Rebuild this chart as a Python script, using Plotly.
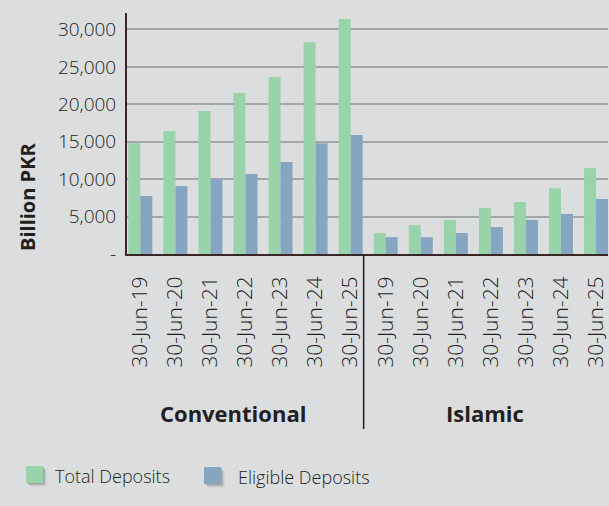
import plotly.graph_objects as go

# Deposits by bank type, billion PKR
groups = ["Conventional", "Islamic"]
dates = ["30-Jun-19", "30-Jun-20", "30-Jun-21", "30-Jun-22", "30-Jun-23", "30-Jun-24", "30-Jun-25"]

conv_total = [14800, 16450, 19100, 21500, 23650, 28300, 31400]
conv_eligible = [7750, 9100, 10000, 10700, 12300, 14800, 15900]
isl_total = [2800, 3850, 4550, 6150, 6950, 8800, 11500]
isl_eligible = [2250, 2250, 2800, 3600, 4550, 5350, 7350]

y_tick_vals = [0, 5000, 10000, 15000, 20000, 25000, 30000]
y_tick_text = ["-", "5,000", "10,000", "15,000", "20,000", "25,000", "30,000"]

series_names = ["Total Deposits", "Eligible Deposits"]
GREEN = "#98d3a9"
BLUE = "#86a5c0"
BG = "#dcdddf"
AXIS = "#3a2627"
TEXT = "#231f20"
FONT = "Open Sans"

x_pos = list(range(len(dates) * len(groups)))
tick_text = dates + dates
total = conv_total + isl_total
eligible = conv_eligible + isl_eligible

fig = go.Figure()
fig.add_trace(go.Bar(x=x_pos, y=total, name=series_names[0], marker=dict(color=GREEN, line=dict(width=0)),
                     showlegend=False))
fig.add_trace(go.Bar(x=x_pos, y=eligible, name=series_names[1], marker=dict(color=BLUE, line=dict(width=0)),
                     showlegend=False))

n = len(dates)
sep_x = n - 0.63

shapes = [
    # divider between the two bank groups
    dict(type="line", xref="x", yref="paper", x0=sep_x, x1=sep_x, y0=0, y1=-0.726,
         line=dict(color=TEXT, width=1.5)),
]

# legend swatches with a soft drop shadow
legend_items = [(series_names[0], GREEN, 26, 466, 53), (series_names[1], BLUE, 204, 467, 236)]
W, H = 609, 506
ml, mt, pw, ph = 127, 13, 481, 241


def px_to_paper(xp, yp):
    return (xp - ml) / pw, (mt + ph - yp) / ph


annotations = []
for label, col, sx, sy, tx in legend_items:
    for k, op in [(4, 0.06), (3, 0.08), (2, 0.12), (1, 0.16)]:
        x0, y0 = px_to_paper(sx + k, sy + k)
        x1, y1 = px_to_paper(sx + 17 + k, sy + 17 + k)
        shapes.append(dict(type="rect", xref="paper", yref="paper", x0=x0, x1=x1, y0=y0, y1=y1,
                           fillcolor="rgba(60,60,60,%s)" % op, line=dict(width=0), layer="above"))
    x0, y0 = px_to_paper(sx, sy)
    x1, y1 = px_to_paper(sx + 17, sy + 17)
    shapes.append(dict(type="rect", xref="paper", yref="paper", x0=x0, x1=x1, y0=y0, y1=y1,
                       fillcolor=col, line=dict(width=0), layer="above"))
    ax, ay = px_to_paper(tx, sy + 10)
    annotations.append(dict(text=label, xref="paper", yref="paper", x=ax, y=ay, xanchor="left",
                            yanchor="middle", showarrow=False,
                            font=dict(family=FONT, size=18, color=TEXT, weight=300)))

# group labels
for gx, name in [(2.65, groups[0]), (9.83, groups[1])]:
    annotations.append(dict(text="<b>%s</b>" % name, xref="x", yref="paper", x=gx, y=-0.66,
                            xanchor="center", yanchor="middle", showarrow=False,
                            font=dict(family=FONT, size=22, color=TEXT)))

# y-axis title
tx, ty = px_to_paper(27, 197)
annotations.append(dict(text="<b>Billion PKR</b>", xref="paper", yref="paper", x=tx, y=ty, textangle=-90,
                        xanchor="center", yanchor="middle", showarrow=False,
                        font=dict(family=FONT, size=20, color=TEXT)))

fig.update_layout(
    width=W, height=H,
    margin=dict(l=ml, r=W - ml - pw, t=mt, b=H - mt - ph, pad=0),
    paper_bgcolor=BG, plot_bgcolor=BG,
    barmode="group", bargap=0.316, bargroupgap=0,
    shapes=shapes, annotations=annotations,
    font=dict(family=FONT, color=TEXT),
)
fig.update_xaxes(
    range=[-0.38, 13.34], tickmode="array", tickvals=x_pos, ticktext=tick_text, tickangle=-90,
    showgrid=False, zeroline=False, showline=True, linecolor=AXIS, linewidth=2,
    ticks="", ticklabelstandoff=12, tickfont=dict(family=FONT, size=21, color=TEXT, weight=300),
)
fig.update_yaxes(
    range=[0, 32200], tickmode="array", tickvals=y_tick_vals, ticktext=y_tick_text,
    showgrid=True, gridcolor="#a5a6a8", gridwidth=1.5, zeroline=False,
    showline=True, linecolor=AXIS, linewidth=2, ticks="", ticklabelstandoff=5,
    tickfont=dict(family=FONT, size=19, color=TEXT, weight=300),
)

fig.write_html("out.html")
